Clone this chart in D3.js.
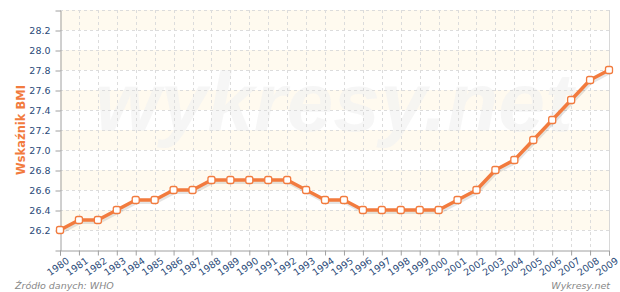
<!DOCTYPE html>
<html>
<head>
<meta charset="utf-8">
<script src="https://cdn.jsdelivr.net/npm/d3@7"></script>
<style>
  body { margin: 0; background: #fff; }
  svg { display: block; font-family: Verdana, "DejaVu Sans", sans-serif; }
</style>
</head>
<body>
<svg id="chart"></svg>
<script>
// BMI values
var years = [1980, 1981, 1982, 1983, 1984, 1985, 1986, 1987, 1988, 1989,
             1990, 1991, 1992, 1993, 1994, 1995, 1996, 1997, 1998, 1999,
             2000, 2001, 2002, 2003, 2004, 2005, 2006, 2007, 2008, 2009];
var bmi = [26.2, 26.3, 26.3, 26.4, 26.5, 26.5, 26.6, 26.6, 26.7, 26.7,
           26.7, 26.7, 26.7, 26.6, 26.5, 26.5, 26.4, 26.4, 26.4, 26.4,
           26.4, 26.5, 26.6, 26.8, 26.9, 27.1, 27.3, 27.5, 27.7, 27.8];
var yTicks = [26.2, 26.4, 26.6, 26.8, 27.0, 27.2, 27.4, 27.6, 27.8, 28.0, 28.2];
var yTitle = "Wskaźnik BMI";
var sourceText = "Źródło danych:  WHO";
var brandText = "Wykresy.net";

var width = 620, height = 292;
var m = {left: 60, right: 11, top: 10, bottom: 42};
var orange = "#f27b3e", labelBlue = "#2a4a78";

var svg = d3.select("#chart").attr("width", width).attr("height", height);

var x = d3.scaleLinear().domain([1980, 2009]).range([m.left, width - m.right]);
var y = d3.scaleLinear().domain([26.0, 28.4]).range([height - m.bottom, m.top]);

// alternating bands
var bands = d3.range(26.0, 28.4, 0.2).map(v => +v.toFixed(1));
svg.append("g").selectAll("rect")
  .data(bands.filter((d, i) => i % 2 == 1))
  .enter().append("rect")
  .attr("x", m.left)
  .attr("width", x(2009) - m.left)
  .attr("y", d => y(d + 0.2))
  .attr("height", d => y(d) - y(d + 0.2))
  .attr("fill", "#fffaef");

// watermark
svg.append("text")
  .attr("x", 334).attr("y", 131)
  .attr("text-anchor", "middle")
  .attr("font-family", "'Liberation Sans', Arial, sans-serif")
  .attr("font-weight", "bold")
  .attr("font-style", "italic")
  .attr("font-size", 84)
  .attr("fill", "#f2f2f2")
  .attr("fill-opacity", 0.7)
  .text("wykresy.net");

// grid
var grid = svg.append("g").attr("stroke", "#dcdcdc").attr("stroke-dasharray", "3,3");
grid.selectAll(".h").data(yTicks.concat([28.4])).enter().append("line")
  .attr("x1", m.left).attr("x2", x(2009))
  .attr("y1", d => y(d) + 0.5).attr("y2", d => y(d) + 0.5);
grid.selectAll(".v").data(years.slice(1)).enter().append("line")
  .attr("x1", d => Math.round(x(d)) + 0.5).attr("x2", d => Math.round(x(d)) + 0.5)
  .attr("y1", m.top).attr("y2", y(26.0));

// right border
svg.append("line")
  .attr("x1", x(2009) + 0.5).attr("x2", x(2009) + 0.5)
  .attr("y1", m.top).attr("y2", y(26.0))
  .attr("stroke", "#d8d8d8");

// axes
var yAxis = d3.axisLeft(y).tickValues(yTicks).tickFormat(d3.format(".1f")).tickSize(5).tickPadding(5);
var gy = svg.append("g").attr("transform", "translate(" + (m.left + 0.5) + ",0.5)").call(yAxis);

var xAxis = d3.axisBottom(x).tickValues(years).tickFormat(d3.format("d")).tickSize(5).tickPadding(2);
var gx = svg.append("g").attr("transform", "translate(0," + (y(26.0) + 0.5) + ")").call(xAxis);
gx.selectAll("text")
  .attr("text-anchor", "end")
  .attr("dx", "0.1em").attr("dy", "0.85em")
  .attr("transform", "rotate(-35)");

[gx, gy].forEach(function(g) {
  g.select(".domain").attr("stroke", "#a0a0a0");
  g.selectAll(".tick line").attr("stroke", "#a0a0a0");
  g.selectAll("text").attr("fill", labelBlue).attr("font-size", 9.5)
    .attr("font-family", "Verdana, 'DejaVu Sans', sans-serif");
});

// line
var line = d3.line().x((d, i) => x(years[i])).y(d => y(d));
svg.append("path").datum(bmi)
  .attr("d", line).attr("fill", "none")
  .attr("stroke", "#000").attr("stroke-opacity", 0.1).attr("stroke-width", 4)
  .attr("transform", "translate(1,2)");
svg.append("path").datum(bmi)
  .attr("d", line).attr("fill", "none")
  .attr("stroke", orange).attr("stroke-width", 3.5)
  .attr("stroke-linejoin", "round");

svg.append("g").selectAll("rect")
  .data(bmi).enter().append("rect")
  .attr("x", (d, i) => x(years[i]) - 3.5)
  .attr("y", d => y(d) - 3.5)
  .attr("width", 7).attr("height", 7)
  .attr("rx", 2)
  .attr("fill", "#fff")
  .attr("stroke", orange).attr("stroke-width", 1.3);

// y title
svg.append("text")
  .attr("transform", "translate(25," + y(27.2) + ") rotate(-90)")
  .attr("text-anchor", "middle")
  .attr("font-weight", "bold")
  .attr("font-size", 11.5)
  .attr("fill", orange)
  .text(yTitle);

// footer
svg.append("text")
  .attr("x", 15).attr("y", 289)
  .attr("font-style", "italic").attr("font-size", 9.5)
  .attr("fill", "#888")
  .text(sourceText);
svg.append("text")
  .attr("x", 610).attr("y", 289)
  .attr("text-anchor", "end")
  .attr("font-style", "italic").attr("font-size", 9.5)
  .attr("fill", "#888")
  .text(brandText);
</script>
</body>
</html>
